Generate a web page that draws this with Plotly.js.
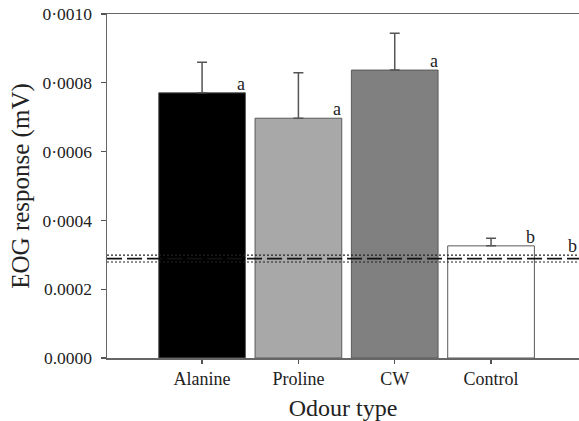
<!DOCTYPE html>
<html>
<head>
<meta charset="utf-8">
<script src="https://cdn.plot.ly/plotly-3.0.1.min.js"></script>
<style>html,body{margin:0;padding:0;background:#fff;}</style>
</head>
<body>
<div id="chart" style="width:579px;height:421px;"></div>
<script>
// Data
const categories = ["Alanine", "Proline", "CW", "Control"];
const meanResponse = [0.000771, 0.000697, 0.000837, 0.000326];
const errUpper = [0.000089, 0.000132, 0.000107, 0.000022];
const groupLetters = ["a", "a", "a", "b"];
const barColors = ["#000000", "#a8a8a8", "#808080", "#ffffff"];
const baselineMean = 0.000289;
const baselineUpper = 0.000299;
const baselineLower = 0.000279;
const baselineLetter = "b";
const yTickVals = [0, 0.0002, 0.0004, 0.0006, 0.0008, 0.0010];
const yTickText = ["0.0000", "0.0002", "0\u00b70004", "0\u00b70006", "0\u00b70008", "0\u00b70010"];

const serif = "Liberation Serif, Times New Roman, serif";
const xIdx = categories.map((c, i) => i);

const trace = {
  type: "bar",
  x: xIdx,
  y: meanResponse,
  width: 0.9,
  marker: {color: barColors, line: {color: "#5a5a5a", width: 1}},
  error_y: {
    type: "data",
    symmetric: false,
    array: errUpper,
    arrayminus: errUpper.map(() => 0),
    color: "#555555",
    thickness: 1.5,
    width: 5
  },
  hoverinfo: "none"
};

const annotations = categories.map((c, i) => ({
  x: i, y: meanResponse[i], xref: "x", yref: "y",
  text: groupLetters[i], showarrow: false,
  xanchor: "center", yanchor: "bottom", xshift: 39, yshift: -3,
  font: {family: serif, size: 18, color: "#222"}
}));
annotations.push({
  x: 1, y: baselineMean, xref: "paper", yref: "y",
  text: baselineLetter, showarrow: false,
  xanchor: "right", yanchor: "bottom", xshift: 0, yshift: 1,
  font: {family: serif, size: 18, color: "#222"}
});

const shapes = [
  {type: "line", xref: "paper", yref: "y", x0: 0, x1: 1, y0: baselineUpper, y1: baselineUpper,
   line: {color: "#222", width: 1.2, dash: "2px,2px"}},
  {type: "line", xref: "paper", yref: "y", x0: 0, x1: 1, y0: baselineLower, y1: baselineLower,
   line: {color: "#222", width: 1.2, dash: "2px,2px"}},
  {type: "line", xref: "paper", yref: "y", x0: 0, x1: 1, y0: baselineMean, y1: baselineMean,
   line: {color: "#111", width: 1.8, dash: "15px,5px"}}
];

const layout = {
  width: 579, height: 421,
  margin: {l: 107, r: 0, t: 14, b: 63},
  paper_bgcolor: "#fff", plot_bgcolor: "#fff",
  showlegend: false,
  font: {family: serif, color: "#222"},
  xaxis: {
    range: [-0.987, 3.913],
    tickvals: xIdx, ticktext: categories,
    ticks: "outside", ticklen: 4, tickwidth: 1.2, tickcolor: "#555",
    showline: true, mirror: true, linecolor: "#666", linewidth: 1.5,
    showgrid: false, zeroline: false,
    tickfont: {family: serif, size: 18, color: "#222"},
    title: {text: "Odour type", font: {family: serif, size: 24, color: "#222"}, standoff: 13}
  },
  yaxis: {
    range: [0, 0.001],
    tickvals: yTickVals, ticktext: yTickText,
    ticks: "outside", ticklen: 5, tickwidth: 1.2, tickcolor: "#555",
    ticklabelstandoff: 5,
    showline: true, linecolor: "#666", linewidth: 1.5,
    showgrid: false, zeroline: false,
    tickfont: {family: serif, size: 17.5, color: "#222"},
    title: {text: "EOG response (mV)", font: {family: serif, size: 25, color: "#222"}, standoff: 5}
  },
  shapes: shapes,
  annotations: annotations
};

Plotly.newPlot("chart", [trace], layout, {staticPlot: true, displayModeBar: false});
</script>
</body>
</html>
